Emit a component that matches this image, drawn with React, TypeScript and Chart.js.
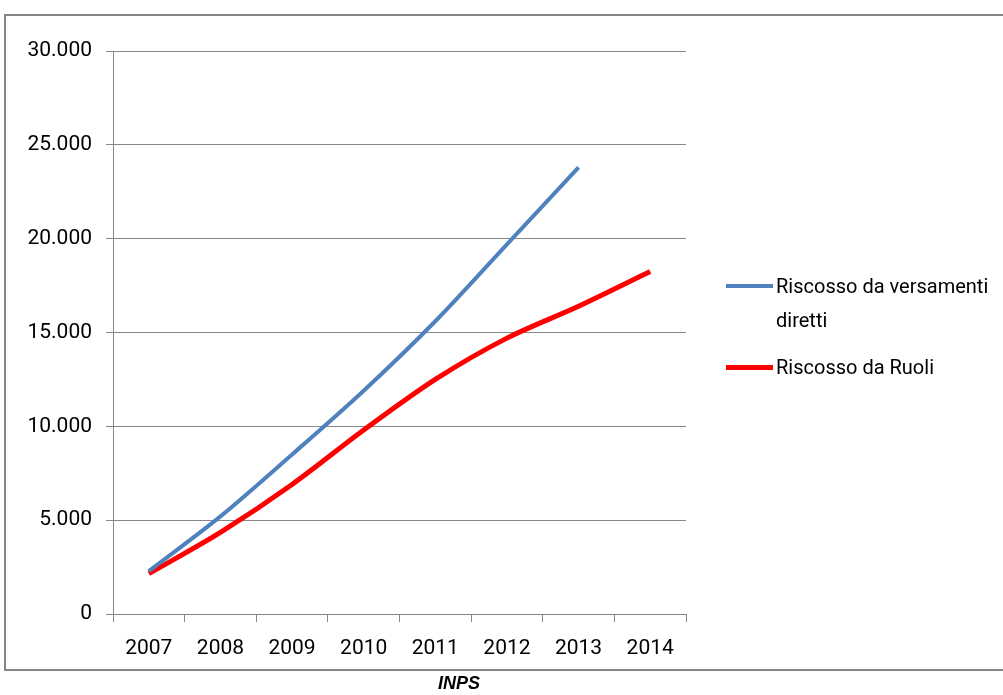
import React, { useEffect, useRef } from "react";
import { Chart, registerables } from "chart.js";

Chart.register(...registerables);

const years = ["2007", "2008", "2009", "2010", "2011", "2012", "2013", "2014"];
const seriesNames = ["Riscosso da versamenti diretti", "Riscosso da Ruoli"];
const versamentiDiretti = [2280, 5200, 8500, 11900, 15600, 19700, 23800, null];
const ruoli = [2150, 4350, 6900, 9800, 12500, 14700, 16400, 18250];
const yTickLabels = ["0", "5.000", "10.000", "15.000", "20.000", "25.000", "30.000"];
const sourceLabel = "INPS";

const BLUE = "#4F81BD";
const RED = "#FF0000";
const GRID = "#868686";
const FONT = "Roboto, 'Liberation Sans', Arial, sans-serif";

export default function App() {
  const canvasRef = useRef<HTMLCanvasElement | null>(null);

  useEffect(() => {
    if (!canvasRef.current) return;
    const chart = new Chart(canvasRef.current, {
      type: "line",
      data: {
        labels: years,
        datasets: [
          {
            label: seriesNames[0],
            data: versamentiDiretti,
            borderColor: BLUE,
            backgroundColor: BLUE,
            borderWidth: 4,
            pointRadius: 0,
            tension: 0.3,
          },
          {
            label: seriesNames[1],
            data: ruoli,
            borderColor: RED,
            backgroundColor: RED,
            borderWidth: 5,
            pointRadius: 0,
            tension: 0.3,
          },
        ],
      },
      options: {
        animation: false,
        responsive: false,
        maintainAspectRatio: false,
        layout: { padding: { left: 0, top: 51, right: 317, bottom: 41 } },
        plugins: { legend: { display: false }, tooltip: { enabled: false } },
        scales: {
          x: {
            offset: true,
            grid: {
              offset: true,
              drawOnChartArea: false,
              drawTicks: true,
              tickLength: 8,
              color: GRID,
            },
            border: { color: GRID, width: 1 },
            ticks: {
              color: "#000",
              font: { family: FONT, size: 21 },
              padding: 14,
              maxRotation: 0,
            },
            afterFit: (scale: any) => {
              scale.height = 40;
            },
          },
          y: {
            min: 0,
            max: 30000,
            grid: {
              color: GRID,
              drawTicks: true,
              tickLength: 7,
            },
            border: { color: GRID, width: 1 },
            ticks: {
              stepSize: 5000,
              color: "#000",
              font: { family: FONT, size: 21 },
              padding: 14,
              callback: (value: any) => yTickLabels[Math.round(Number(value) / 5000)],
            },
            afterFit: (scale: any) => {
              scale.width = 113;
            },
          },
        },
      },
    });
    return () => chart.destroy();
  }, []);

  const firstWords = seriesNames[0].split(" ");

  return (
    <div
      style={{
        position: "absolute",
        left: 0,
        top: 0,
        width: 1003,
        height: 695,
        overflow: "hidden",
        background: "#fff",
      }}
    >
      <div
        style={{
          position: "absolute",
          left: 4,
          top: 14,
          width: 1020,
          height: 653,
          border: `2px solid ${GRID}`,
        }}
      />
      <canvas
        ref={canvasRef}
        width={1003}
        height={695}
        style={{ position: "absolute", left: 0, top: 0, width: 1003, height: 695 }}
      />
      <div
        style={{
          position: "absolute",
          left: 726,
          top: 269,
          fontFamily: FONT,
          fontSize: 20,
          lineHeight: "34px",
          color: "#000",
          whiteSpace: "nowrap",
        }}
      >
        <div style={{ display: "flex", alignItems: "flex-start" }}>
          <div style={{ width: 47, height: 4, background: BLUE, marginTop: 15, marginRight: 3 }} />
          <div>
            {firstWords.slice(0, 3).join(" ")}
            <br />
            {firstWords.slice(3).join(" ")}
          </div>
        </div>
        <div style={{ display: "flex", alignItems: "flex-start", marginTop: 13 }}>
          <div style={{ width: 47, height: 5, background: RED, marginTop: 15, marginRight: 3 }} />
          <div>{seriesNames[1]}</div>
        </div>
      </div>
      <div
        style={{
          position: "absolute",
          left: 0,
          width: 918,
          top: 673,
          textAlign: "center",
          fontFamily: "'Liberation Sans', Arial, sans-serif",
          fontWeight: "bold",
          fontStyle: "italic",
          fontSize: 18,
          color: "#000",
        }}
      >
        {sourceLabel}
      </div>
    </div>
  );
}
